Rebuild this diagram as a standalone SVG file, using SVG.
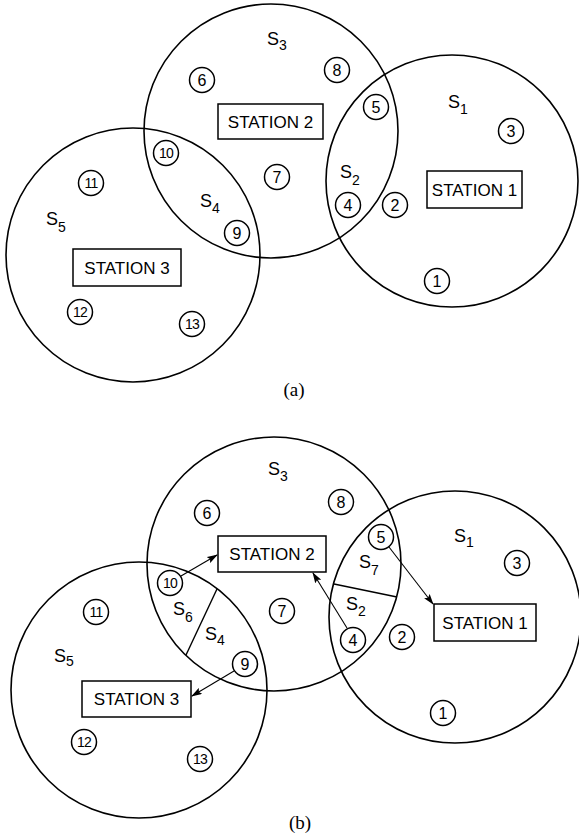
<svg xmlns="http://www.w3.org/2000/svg" width="579" height="836" viewBox="0 0 579 836">
<style>
.rg{fill:none;stroke:#000;stroke-width:1.6}
.bx{fill:#fff;stroke:#000;stroke-width:1.5}
.nc{fill:#fff;stroke:#000;stroke-width:1.5}
.st{font-family:"Liberation Sans",Arial,sans-serif;font-size:17px;text-anchor:middle;fill:#000}
.nt{font-family:"Liberation Sans",Arial,sans-serif;font-size:16px;text-anchor:middle;fill:#000}
.nt2{font-family:"Liberation Sans",Arial,sans-serif;font-size:14px;text-anchor:middle;letter-spacing:-0.8px;fill:#000}
.sl{font-family:"Liberation Sans",Arial,sans-serif;font-size:18px;fill:#000}
.sb{font-size:14px}
.cap{font-family:"Liberation Serif","Times New Roman",serif;font-size:19px;text-anchor:middle;fill:#000}
.ln{fill:none;stroke:#000;stroke-width:1.4}
.ar{fill:none;stroke:#000;stroke-width:1.1;marker-end:url(#ah)}
</style>
<defs>
<marker id="ah" markerWidth="11" markerHeight="7" refX="10" refY="3.5" orient="auto" markerUnits="userSpaceOnUse">
<path d="M0,0 L11,3.5 L0,7 L2,3.5 z" fill="#000"/>
</marker>
</defs>

<!-- ===== Diagram (a) ===== -->
<g id="a-regions">
<circle id="a-circle-s3" class="rg" cx="271" cy="131" r="127"/>
<circle id="a-circle-s1" class="rg" cx="452" cy="181" r="126"/>
<circle id="a-circle-s5" class="rg" cx="133" cy="255" r="127"/>
</g>
<g id="a-labels">
<text class="sl" x="267" y="45">S<tspan class="sb" dy="5">3</tspan></text>
<text class="sl" x="448" y="108">S<tspan class="sb" dy="6">1</tspan></text>
<text class="sl" x="340" y="178">S<tspan class="sb" dy="7">2</tspan></text>
<text class="sl" x="200" y="207">S<tspan class="sb" dy="6">4</tspan></text>
<text class="sl" x="46" y="225">S<tspan class="sb" dy="7">5</tspan></text>
</g>
<g id="a-station2"><rect class="bx" x="218" y="104" width="105" height="35"/><text class="st" x="270.5" y="127.5">STATION 2</text></g>
<g id="a-station1"><rect class="bx" x="427" y="171" width="95" height="37"/><text class="st" x="474.5" y="195.5">STATION 1</text></g>
<g id="a-station3"><rect class="bx" x="73" y="249" width="108" height="37"/><text class="st" x="127" y="273.5">STATION 3</text></g>
<g id="a-n1"><circle class="nc" cx="437" cy="281" r="12.5"/><text class="nt" x="437" y="286.8">1</text></g>
<g id="a-n2"><circle class="nc" cx="395" cy="205" r="12.5"/><text class="nt" x="395" y="210.8">2</text></g>
<g id="a-n3"><circle class="nc" cx="511" cy="131" r="12.5"/><text class="nt" x="511" y="136.8">3</text></g>
<g id="a-n4"><circle class="nc" cx="348" cy="205" r="12.5"/><text class="nt" x="348" y="210.8">4</text></g>
<g id="a-n5"><circle class="nc" cx="376" cy="107" r="12.5"/><text class="nt" x="376" y="112.8">5</text></g>
<g id="a-n6"><circle class="nc" cx="202" cy="80" r="12.5"/><text class="nt" x="202" y="85.8">6</text></g>
<g id="a-n7"><circle class="nc" cx="277" cy="177" r="12.5"/><text class="nt" x="277" y="182.8">7</text></g>
<g id="a-n8"><circle class="nc" cx="337" cy="70" r="12.5"/><text class="nt" x="337" y="75.8">8</text></g>
<g id="a-n9"><circle class="nc" cx="237" cy="233" r="12.5"/><text class="nt" x="237" y="238.8">9</text></g>
<g id="a-n10"><circle class="nc" cx="166" cy="153" r="12.5"/><text class="nt2" x="166" y="158">10</text></g>
<g id="a-n11"><circle class="nc" cx="91" cy="183" r="12.5"/><text class="nt2" x="91" y="188">11</text></g>
<g id="a-n12"><circle class="nc" cx="80" cy="312" r="12.5"/><text class="nt2" x="80" y="317">12</text></g>
<g id="a-n13"><circle class="nc" cx="192" cy="324" r="12.5"/><text class="nt2" x="192" y="329">13</text></g>
<text id="caption-a" class="cap" x="294" y="396">(a)</text>

<!-- ===== Diagram (b) ===== -->
<g id="b-regions">
<circle id="b-circle-s3" class="rg" cx="274" cy="564" r="127"/>
<circle id="b-circle-s1" class="rg" cx="455" cy="617" r="126"/>
<circle id="b-circle-s5" class="rg" cx="139" cy="690" r="128"/>
<line class="ln" x1="334" y1="584" x2="397" y2="597"/>
<line class="ln" x1="217" y1="589" x2="186" y2="655"/>
</g>
<g id="b-labels">
<text class="sl" x="268" y="475">S<tspan class="sb" dy="6">3</tspan></text>
<text class="sl" x="359" y="568">S<tspan class="sb" dy="7">7</tspan></text>
<text class="sl" x="346" y="610">S<tspan class="sb" dy="6">2</tspan></text>
<text class="sl" x="454" y="542">S<tspan class="sb" dy="5">1</tspan></text>
<text class="sl" x="173" y="615">S<tspan class="sb" dy="7">6</tspan></text>
<text class="sl" x="205" y="640">S<tspan class="sb" dy="5">4</tspan></text>
<text class="sl" x="54" y="662">S<tspan class="sb" dy="4">5</tspan></text>
</g>
<g id="b-station2"><rect class="bx" x="218" y="536" width="108" height="36"/><text class="st" x="272" y="560">STATION 2</text></g>
<g id="b-station1"><rect class="bx" x="434" y="604" width="102" height="37"/><text class="st" x="485" y="628.5">STATION 1</text></g>
<g id="b-station3"><rect class="bx" x="82" y="681" width="109" height="36"/><text class="st" x="136.5" y="705">STATION 3</text></g>
<g id="b-n1"><circle class="nc" cx="443" cy="713" r="12.5"/><text class="nt" x="443" y="718.8">1</text></g>
<g id="b-n2"><circle class="nc" cx="402" cy="637" r="12.5"/><text class="nt" x="402" y="642.8">2</text></g>
<g id="b-n3"><circle class="nc" cx="517" cy="563" r="12.5"/><text class="nt" x="517" y="568.8">3</text></g>
<g id="b-n4"><circle class="nc" cx="353" cy="640" r="12.5"/><text class="nt" x="353" y="645.8">4</text></g>
<g id="b-n5"><circle class="nc" cx="381" cy="537" r="12.5"/><text class="nt" x="381" y="542.8">5</text></g>
<g id="b-n6"><circle class="nc" cx="207" cy="513" r="12.5"/><text class="nt" x="207" y="518.8">6</text></g>
<g id="b-n7"><circle class="nc" cx="282" cy="611" r="12.5"/><text class="nt" x="282" y="616.8">7</text></g>
<g id="b-n8"><circle class="nc" cx="341" cy="502" r="12.5"/><text class="nt" x="341" y="507.8">8</text></g>
<g id="b-n9"><circle class="nc" cx="245" cy="664" r="12.5"/><text class="nt" x="245" y="669.8">9</text></g>
<g id="b-n10"><circle class="nc" cx="170" cy="583" r="12.5"/><text class="nt2" x="170" y="588">10</text></g>
<g id="b-n11"><circle class="nc" cx="96" cy="612" r="12.5"/><text class="nt2" x="96" y="617">11</text></g>
<g id="b-n12"><circle class="nc" cx="84" cy="742" r="12.5"/><text class="nt2" x="84" y="747">12</text></g>
<g id="b-n13"><circle class="nc" cx="200" cy="759" r="12.5"/><text class="nt2" x="200" y="764">13</text></g>
<g id="connectors">
<line class="ar" x1="181" y1="576" x2="217" y2="555"/>
<line class="ar" x1="347" y1="628" x2="313" y2="573"/>
<line class="ar" x1="389" y1="547" x2="433" y2="604"/>
<line class="ar" x1="234" y1="671" x2="192" y2="696"/>
</g>
<text id="caption-b" class="cap" x="300" y="829">(b)</text>
</svg>
